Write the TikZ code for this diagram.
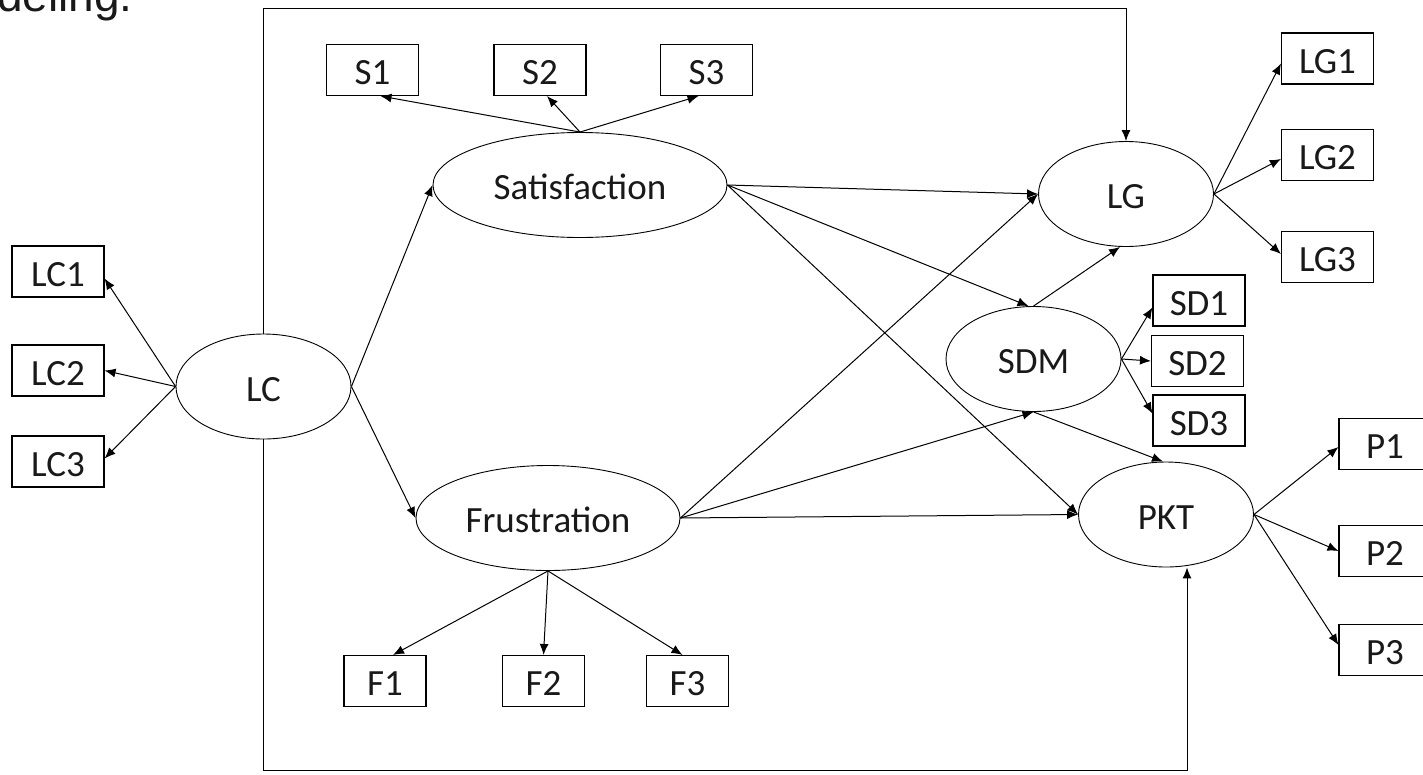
\documentclass[tikz,border=0pt]{standalone}
\usepackage{fontspec}
\setmainfont{Carlito}
\newfontfamily\headfont{Liberation Sans}
\usetikzlibrary{shapes.geometric,arrows.meta,calc}
\begin{document}
\begin{tikzpicture}[x=1pt,y=-1pt,
  every node/.style={font=\fontsize{37}{44}\selectfont, text=black!90, text height=29pt, text depth=0pt},
  box/.style={draw, rectangle, minimum width=92pt, minimum height=51pt, inner sep=0pt, line width=1.1pt},
  lat/.style={draw, ellipse, inner sep=0pt, line width=0.9pt, minimum width=175pt, minimum height=105pt},
  arr/.style={-{Latex[length=11pt,width=9pt]}, line width=1pt}]
\useasboundingbox (0,0) rectangle (1423,774);
\fill[white] (0,0) rectangle (1423,774);

% heading fragment (cut off by the page edge, as in the reference)
\node[font=\headfont\fontsize{46}{54}\selectfont, anchor=base west, inner sep=0pt, text height=, text depth=] (hd) at (-3,11) {deling.};

% latent variables
\node[lat] (LC) at (263.5,386.5) {LC};
\node[lat, minimum width=294pt] (Sat) at (580,185) {Satisfaction};
\node[lat, minimum width=264pt] (Fru) at (548,518) {Frustration};
\node[lat] (LG) at (1126,194) {LG};
\node[lat] (SDM) at (1033.5,359) {SDM};
\node[lat] (PKT) at (1166,514.5) {PKT};

% indicators
\node[box] (LC1) at (58,271.5) {LC1};
\node[box] (LC2) at (58,370.5) {LC2};
\node[box] (LC3) at (58,461.5) {LC3};
\node[box] (S1) at (372.5,70) {S1};
\node[box] (S2) at (540,70) {S2};
\node[box] (S3) at (706.5,70) {S3};
\node[box, minimum width=82pt] (F1) at (385,681) {F1};
\node[box, minimum width=82pt] (F2) at (543.5,681) {F2};
\node[box, minimum width=82pt] (F3) at (687.5,681) {F3};
\node[box] (LG1) at (1327.5,58.5) {LG1};
\node[box] (LG2) at (1327.5,155) {LG2};
\node[box] (LG3) at (1327.5,257) {LG3};
\node[box] (SD1) at (1199,300.5) {SD1};
\node[box] (SD2) at (1197.5,361) {SD2};
\node[box] (SD3) at (1199,420.5) {SD3};
\node[box] (P1) at (1385,444) {P1};
\node[box] (P2) at (1385,551) {P2};
\node[box] (P3) at (1385,650) {P3};

% measurement arrows
\draw[arr] (LC.west) -- ($(LC1.east)+(0,7)$);
\draw[arr] (LC.west) -- (LC2.east);
\draw[arr] (LC.west) -- ($(LC3.east)+(0,-3)$);
\draw[arr] (Sat.north) -- ($(S1.south)+(8,0)$);
\draw[arr] (Sat.north) -- ($(S2.south)+(7,0)$);
\draw[arr] (Sat.north) -- ($(S3.south)+(-8,0)$);
\draw[arr] (Fru.south) -- ($(F1.north)+(8,0)$);
\draw[arr] (Fru.south) -- (F2.north);
\draw[arr] (Fru.south) -- ($(F3.north)+(-5,0)$);
\draw[arr] (LG.east) -- ($(LG1.west)+(0,5)$);
\draw[arr] (LG.east) -- ($(LG2.west)+(0,4)$);
\draw[arr] (LG.east) -- ($(LG3.west)+(0,-3)$);
\draw[arr] (SDM.east) -- ($(SD1.west)+(0,7)$);
\draw[arr] (SDM.east) -- (SD2.west);
\draw[arr] (SDM.east) -- ($(SD3.west)+(0,-7)$);
\draw[arr] (PKT.east) -- ($(P1.west)+(0,3)$);
\draw[arr] (PKT.east) -- (P2.west);
\draw[arr] (PKT.east) -- ($(P3.west)+(0,-5)$);

% structural arrows
\draw[arr] (LC.east) -- (Sat.west);
\draw[arr] (LC.east) -- (Fru.west);
\draw[arr] (Sat.east) -- (LG.west);
\draw[arr] (Sat.east) -- ($(SDM.north)+(-5,0)$);
\draw[arr] (Sat.east) -- (PKT.west);
\draw[arr] (Fru.east) -- (LG.west);
\draw[arr] (Fru.east) -- (SDM.south);
\draw[arr] (Fru.east) -- (PKT.west);
\draw[arr] (SDM.north) -- ($(LG.south)+(-6,0)$);
\draw[arr] (SDM.south) -- ($(PKT.north)+(-3,0)$);

% outer paths
\coordinate (topR) at (1126,8);
\coordinate (botR) at (1187,770);
\draw[arr] (LC.north) |- (topR) -- (LG.north);
\draw[arr] (LC.south) |- (botR) -- (botR |- PKT.south);
\end{tikzpicture}
\end{document}
